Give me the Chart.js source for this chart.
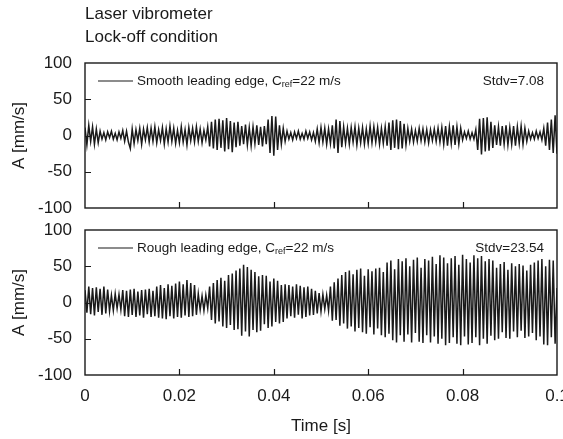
<!DOCTYPE html>
<html>
<head>
<meta charset="utf-8">
<script src="https://cdn.jsdelivr.net/npm/chart.js@4.4.0/dist/chart.umd.min.js"></script>
<style>
    body { margin: 0; background: #fff; }
    #wrap { position: relative; width: 563px; height: 439px; }
    #wrap canvas { position: absolute; left: 0; top: 0; }
</style>
</head>
<body>
<div id="wrap">
    <canvas id="smoothChart" width="563" height="439"></canvas>
    <canvas id="roughChart" width="563" height="439"></canvas>
</div>
<script>
// Data (one sample every 0.4 ms)
const sampleStep = 0.0004;
const xTicks = [0, 0.02, 0.04, 0.06, 0.08, 0.1];
const yTicks = [-100, -50, 0, 50, 100];

const smoothValues = [
    11, -13, 14, -8, 12, -12, 9, -10, 6, -5,
    4, -6, 5, -3, 6, -5, 3, -6, 5, -4,
    7, -8, 6, -9, -18, 9, -11, 8, -7, 10,
    -12, 9, -6, 11, -9, 10, -8, 12, -10, 8,
    -7, 11, -12, 9, -9, 13, -8, 10, -11, 7,
    -10, 12, -9, 8, -13, 11, -7, 10, -9, 12,
    -8, 9, -10, 7, -6, 12, -15, 19, -18, 22,
    -20, 23, -17, 21, -22, 24, -19, 20, -23, 18,
    -16, 19, -14, 13, -12, 15, -13, 11, -14, 12,
    -11, 14, -13, 12, -15, 13, -12, 22, -24, 27,
    -28, 26, -20, 14, -12, 10, -8, 6, -5, 4,
    -6, 5, -4, 6, -5, 3, -5, 6, -4, 5,
    -6, 4, -8, 9, -10, 11, -9, 10, -12, 9,
    -11, 14, -18, 22, -24, 20, -16, 12, -11, 10,
    -12, 11, -9, 12, -13, 10, -10, 11, -12, 9,
    -11, 13, -10, 12, -9, 11, -12, 10, -11, 12,
    -14, 18, -20, 21, -17, 22, -19, 20, -18, 16,
    -13, 10, -8, 9, -9, 7, -8, 10, -7, 9,
    -9, 8, -10, 8, -7, 9, -8, 10, -9, 11,
    -12, 13, -14, 12, -11, 14, -13, 12, -12, 10,
    -6, 5, -4, 6, -5, 4, -5, 8, -20, 23,
    -26, 24, -22, 25, -21, 19, -17, 14, -13, 12,
    -14, 13, -12, 14, -13, 11, -12, 13, -14, 12,
    -11, 13, -12, 10, -8, 6, -5, 4, -5, 6,
    -4, 5, -6, 10, -14, 18, -20, 22, -24, 28,
    -25
];

const roughValues = [
    17, -14, 22, -16, 20, -18, 21, -13, 19, -17,
    22, -15, 18, -12, 10, -11, 12, -8, 11, -10,
    17, -19, 16, -20, 18, -17, 19, -20, 15, -18,
    17, -21, 18, -16, 19, -20, 16, -19, 22, -21,
    24, -22, 20, -23, 25, -19, 23, -22, 26, -20,
    29, -21, 25, -18, 31, -20, 27, -19, 24, -17,
    12, -10, 9, -11, 10, -8, 22, -24, 27, -29,
    31, -26, 34, -33, 30, -35, 38, -31, 40, -38,
    44, -37, 47, -46, 52, -40, 49, -47, 45, -38,
    42, -41, 36, -39, 38, -30, 37, -35, 29, -33,
    33, -27, 30, -29, 24, -27, 25, -22, 24, -19,
    22, -21, 25, -17, 23, -22, 21, -20, 22, -18,
    19, -17, 16, -15, 13, -12, 11, -9, 10, -11,
    22, -25, 28, -24, 33, -32, 38, -29, 42, -36,
    44, -33, 39, -40, 45, -35, 47, -41, 37, -43,
    46, -34, 43, -44, 47, -36, 48, -45, 42, -48,
    55, -43, 58, -52, 46, -55, 60, -45, 57, -54,
    61, -44, 50, -55, 59, -42, 62, -54, 48, -56,
    60, -45, 58, -55, 63, -47, 53, -57, 65, -50,
    62, -59, 54, -56, 61, -48, 64, -57, 52, -59,
    66, -47, 60, -58, 55, -56, 65, -48, 61, -59,
    64, -50, 57, -57, 60, -46, 58, -52, 48, -50,
    53, -41, 56, -49, 45, -50, 54, -40, 50, -48,
    53, -39, 51, -49, 44, -47, 52, -42, 55, -52,
    58, -47, 60, -58, 50, -59, 59, -48, 58, -57,
    20
];

const FONT = '"Liberation Sans", Arial, sans-serif';
const INK = '#1a1a1a';

function toPoints(values) {
    return values.map((v, i) => ({ x: i * sampleStep, y: v }));
}

function fmtTime(v) {
    return String(parseFloat(v.toFixed(2)));
}

// frame, inward ticks, legend and stdv label
function panelPlugin(label, stdv, withTitle) {
    return {
        id: 'panel',
        afterDraw(chart) {
            const ctx = chart.ctx;
            const a = chart.chartArea;
            const xs = chart.scales.x;
            const ys = chart.scales.y;
            ctx.save();
            ctx.strokeStyle = INK;
            ctx.lineWidth = 1.4;
            ctx.strokeRect(a.left, a.top, a.right - a.left, a.bottom - a.top);

            ctx.lineWidth = 1.2;
            ctx.beginPath();
            xTicks.slice(1, -1).forEach(t => {
                const px = Math.round(xs.getPixelForValue(t)) + 0.5;
                ctx.moveTo(px, a.bottom);
                ctx.lineTo(px, a.bottom - 6);
            });
            yTicks.slice(1, -1).forEach(t => {
                const py = Math.round(ys.getPixelForValue(t)) + 0.5;
                ctx.moveTo(a.left, py);
                ctx.lineTo(a.left + 6, py);
            });
            ctx.stroke();

            // legend
            const ly = a.top + 18;
            ctx.lineWidth = 1.2;
            ctx.beginPath();
            ctx.moveTo(a.left + 13, ly);
            ctx.lineTo(a.left + 48, ly);
            ctx.stroke();

            ctx.fillStyle = INK;
            ctx.textBaseline = 'middle';
            ctx.textAlign = 'left';
            ctx.font = '13.5px ' + FONT;
            let tx = a.left + 52;
            ctx.fillText(label, tx, ly);
            tx += ctx.measureText(label).width;
            ctx.font = '9px ' + FONT;
            ctx.fillText('ref', tx, ly + 4);
            tx += ctx.measureText('ref').width;
            ctx.font = '13.5px ' + FONT;
            ctx.fillText('=22 m/s', tx, ly);

            ctx.textAlign = 'right';
            ctx.fillText('Stdv=' + stdv, a.right - 13, ly);

            if (withTitle) {
                ctx.textAlign = 'left';
                ctx.font = '17px ' + FONT;
                ctx.fillText('Laser vibrometer', a.left, 14);
                ctx.fillText('Lock-off condition', a.left, 37);
            }
            ctx.restore();
        }
    };
}

function makePanel(canvasId, values, label, stdv, top, showX, withTitle) {
    const yAxis = {
        min: -100,
        max: 100,
        afterBuildTicks: s => { s.ticks = yTicks.map(v => ({ value: v })); },
        ticks: { padding: 13, autoSkip: false, color: INK, font: { family: FONT, size: 17 } },
        grid: { display: false, drawTicks: false },
        border: { display: false },
        title: {
            display: true,
            text: 'A [mm/s]',
            color: INK,
            font: { family: FONT, size: 17 },
            padding: { top: 9, bottom: 0 }
        },
        afterFit: s => { s.width = 85; }
    };
    const xAxis = {
        type: 'linear',
        min: 0,
        max: 0.1,
        display: showX,
        afterBuildTicks: s => { s.ticks = xTicks.map(v => ({ value: v })); },
        ticks: {
            padding: 11,
            autoSkip: false,
            color: INK,
            maxRotation: 0,
            font: { family: FONT, size: 17 },
            callback: v => fmtTime(v)
        },
        grid: { display: false, drawTicks: false },
        border: { display: false },
        title: {
            display: true,
            text: 'Time [s]',
            color: INK,
            font: { family: FONT, size: 17 },
            padding: { top: 0, bottom: 2 }
        },
        afterFit: s => {
            if (!showX) return;
            s.height = 64;
            s.paddingLeft = 0;
            s.paddingRight = 0;
        }
    };

    return new Chart(document.getElementById(canvasId), {
        type: 'line',
        data: {
            datasets: [{
                data: toPoints(values),
                borderColor: INK,
                borderWidth: 1.5,
                pointRadius: 0,
                tension: 0,
                fill: false
            }]
        },
        options: {
            responsive: false,
            animation: false,
            devicePixelRatio: 1,
            layout: {
                padding: { left: 0, right: 6, top: top, bottom: showX ? 0 : 231 }
            },
            plugins: {
                legend: { display: false },
                tooltip: { enabled: false }
            },
            scales: { x: xAxis, y: yAxis }
        },
        plugins: [panelPlugin(label, stdv, withTitle)]
    });
}

makePanel('smoothChart', smoothValues, 'Smooth leading edge, C', '7.08', 63, false, true);
makePanel('roughChart', roughValues, 'Rough leading edge, C', '23.54', 230, true, false);
</script>
</body>
</html>
